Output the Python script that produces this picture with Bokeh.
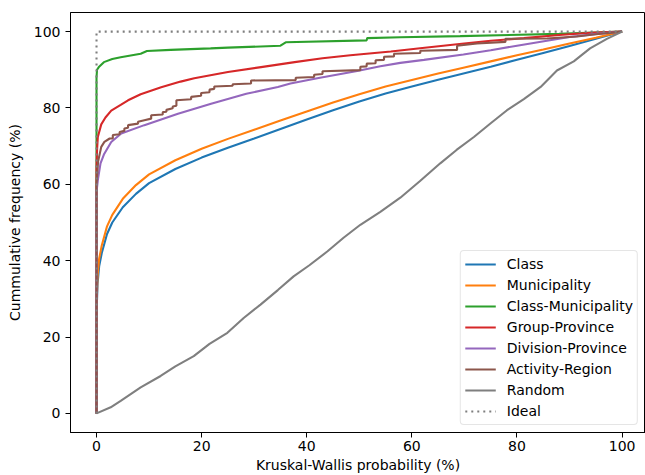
from bokeh.plotting import figure
from bokeh.models import Range1d
from bokeh.embed import file_html
from bokeh.resources import INLINE

# ---- data ----
smooth_x = [0, 0.05, 0.2, 0.5, 1, 2, 3, 5, 7.5, 10, 15, 20, 25, 30, 35, 40, 45, 50,
            55, 60, 65, 70, 75, 80, 85, 90, 95, 100]
class_y = [0, 28, 34, 38.5, 42, 47, 50, 54, 57.5, 60.3, 64, 67, 69.6, 72, 74.5, 77,
           79.4, 81.7, 83.8, 85.6, 87.4, 89.1, 90.8, 92.6, 94.4, 96.2, 98.1, 100]
muni_y = [0, 30, 36, 40.5, 44, 49, 52, 56.2, 59.8, 62.6, 66.3, 69.3, 71.9, 74.3, 76.7,
          79.1, 81.4, 83.6, 85.6, 87.3, 89, 90.6, 92.2, 93.8, 95.3, 96.9, 98.4, 100]

cm_x = [0, 0, 0.1, 0.44, 1.4, 3, 4.6, 8.4, 9.6, 14.1, 21.7, 25, 35, 36, 51.4, 51.5,
        57.8, 69.2, 88, 100]
cm_y = [0, 88, 90, 90.7, 92, 92.8, 93.3, 94.2, 94.9, 95.2, 95.6, 95.8, 96.3, 97.2,
        97.7, 98.3, 98.5, 98.8, 99.4, 100]

gp_x = [0, 0, 0.1, 0.25, 0.9, 1.7, 2.8, 4.6, 6, 8.4, 12.3, 16, 18.6, 25, 31.3, 37.7,
        43, 48.3, 56, 62, 69.5, 75, 81.3, 88, 94, 100]
gp_y = [0, 64, 69, 72.4, 75.7, 77.5, 79.3, 80.8, 82, 83.6, 85.4, 86.9, 87.8, 89.4,
        90.7, 92, 93, 93.8, 94.8, 95.7, 96.8, 97.6, 98.3, 99.1, 99.7, 100]

dp_x = [0, 0, 0.25, 0.76, 1.4, 2.8, 4.7, 9.1, 15.5, 21.8, 28.5, 34.5, 36.9, 42, 49.6,
        54, 57.8, 62.3, 69.8, 75, 80, 85.7, 90, 95.2, 100]
dp_y = [0, 58, 61.1, 65.5, 67.8, 71.1, 73.3, 75.5, 78.5, 81.1, 83.7, 85.5, 86.4, 87.8,
        89.7, 90.9, 91.8, 92.6, 94.0, 95.1, 96.3, 97.6, 98.6, 99.4, 100]

ar_x = [0, 0, 0.3, 0.9, 1.5, 2.5, 3.1, 3.1, 4.4, 4.4, 5.3, 5.3, 6.0, 6.0, 7.9, 7.9,
        9.1, 10.4, 10.4, 12.6, 12.6, 13.3, 13.3, 14.5, 14.5, 15.2, 15.2, 18.0, 18.0,
        19.9, 19.9, 21.5, 21.5, 22.4, 22.4, 25.9, 25.9, 29.4, 29.4, 37.9, 37.9, 41.4,
        41.4, 43.0, 43.0, 50.2, 50.2, 51.4, 51.4, 53.1, 53.1, 54.7, 54.7, 56.6, 56.6,
        61.6, 61.6, 68.6, 68.6, 72.4, 77.8, 77.8, 85.7, 91.4, 95, 100]
ar_y = [0, 60, 66, 69.8, 71.1, 72.0, 72.0, 72.9, 73.1, 73.7, 74.0, 74.6, 74.8, 75.5,
        75.9, 76.4, 76.8, 77.2, 78.1, 78.3, 78.9, 79.0, 79.5, 79.9, 80.4, 80.6, 82.0,
        82.3, 82.9, 83.2, 83.9, 84.1, 84.8, 85.0, 85.6, 85.8, 86.2, 86.4, 87.2, 87.3,
        87.9, 88.1, 88.7, 88.9, 89.6, 89.9, 90.8, 90.9, 91.6, 91.7, 92.5, 92.6, 93.4,
        93.5, 94.2, 94.4, 95.0, 95.2, 96.3, 96.9, 97.3, 98.1, 98.2, 98.7, 99.3, 100]

rand_x = [0, 2.7, 4.6, 8.4, 12.2, 15, 18.5, 21.5, 24.9, 28, 31.2, 34.5, 37.5, 40.5,
          43.9, 47, 50.2, 54, 57.8, 61.5, 65.4, 68.5, 71.8, 75, 78.1, 81.3, 84.5,
          87.6, 90.8, 93.9, 97.1, 100]
rand_y = [0, 1.6, 3.3, 6.8, 9.8, 12.3, 15.0, 18.2, 21.1, 25, 28.5, 32.3, 35.9, 38.8,
          42.4, 46, 49.4, 52.8, 56.5, 60.8, 65.5, 69, 72.4, 76, 79.4, 82.3, 85.5,
          89.8, 92.2, 95.6, 98.1, 100]

ideal_x = [0, 0, 100]
ideal_y = [0, 100, 100]

x_ticks = [0, 20, 40, 60, 80, 100]
y_ticks = [0, 20, 40, 60, 80, 100]

FONT = "DejaVu Sans"

p = figure(width=645, height=475, output_backend="svg", toolbar_location=None,
           x_range=Range1d(-4.95, 104.45), y_range=Range1d(-5, 105),
           min_border_left=70, min_border_right=0, min_border_top=12,
           min_border_bottom=0)

p.background_fill_color = "white"
p.border_fill_color = "white"
p.outline_line_color = "black"
p.outline_line_width = 1
p.grid.visible = False

series = [
    (smooth_x, class_y, "#1f77b4", "Class", "solid"),
    (smooth_x, muni_y, "#ff7f0e", "Municipality", "solid"),
    (cm_x, cm_y, "#2ca02c", "Class-Municipality", "solid"),
    (gp_x, gp_y, "#d62728", "Group-Province", "solid"),
    (dp_x, dp_y, "#9467bd", "Division-Province", "solid"),
    (ar_x, ar_y, "#8c564b", "Activity-Region", "solid"),
    (rand_x, rand_y, "#7f7f7f", "Random", "solid"),
    (ideal_x, ideal_y, "#7f7f7f", "Ideal", "2 4"),
]
for xs, ys, col, lab, dash in series:
    p.line(xs, ys, line_color=col, line_width=2.1, line_dash=dash, legend_label=lab)

for ax in (p.xaxis[0], p.yaxis[0]):
    ax.major_tick_out = 5
    ax.major_tick_in = 0
    ax.minor_tick_out = 0
    ax.minor_tick_in = 0
    ax.major_tick_line_color = "black"
    ax.axis_line_color = "black"
    ax.major_label_text_font = FONT
    ax.major_label_text_font_size = "14px"
    ax.major_label_text_color = "black"
    ax.axis_label_text_font = FONT
    ax.axis_label_text_font_size = "14px"
    ax.axis_label_text_font_style = "normal"
    ax.axis_label_text_color = "black"

p.xaxis.ticker = x_ticks
p.yaxis.ticker = y_ticks
p.xaxis.axis_label = "Kruskal-Wallis probability (%)"
p.yaxis.axis_label = "Cummulative frequency (%)"
p.xaxis.major_label_standoff = 3
p.xaxis.axis_label_standoff = 3
p.yaxis.major_label_standoff = 5
p.yaxis.axis_label_standoff = 8

leg = p.legend[0]
leg.location = "bottom_right"
leg.margin = 7
leg.padding = 4
leg.spacing = 3
leg.glyph_width = 31
leg.glyph_height = 18
leg.label_height = 18
leg.label_standoff = 11
leg.label_text_font = FONT
leg.label_text_font_size = "14px"
leg.label_text_color = "black"
leg.border_line_color = "#cccccc"
leg.border_line_width = 1
leg.background_fill_color = "white"
leg.background_fill_alpha = 0.8
try:
    leg.border_radius = 4
except Exception:
    pass

open("out.html", "w").write(file_html(p, INLINE))
